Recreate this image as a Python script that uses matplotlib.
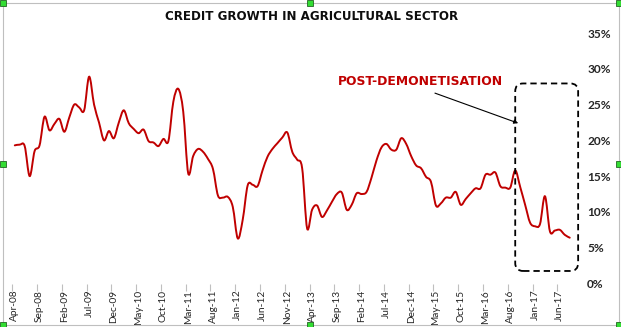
import numpy as np
import pandas as pd
import matplotlib
matplotlib.use("Agg")
import matplotlib.pyplot as plt
from matplotlib.path import Path
from matplotlib.patches import PathPatch, FancyBboxPatch, Rectangle

# ---------------- data ----------------
months = pd.date_range("2008-04-01", periods=113, freq="MS").strftime("%b-%y").tolist()
growth = [
    19.3, 19.4, 19.2, 15.0, 18.5, 19.3, 23.3, 21.4, 22.3, 23.0,
    21.2, 23.2, 25.0, 24.6, 24.2, 28.9, 25.0, 22.5, 20.0, 21.3,
    20.3, 22.5, 24.2, 22.4, 21.6, 21.0, 21.5, 19.9, 19.7, 19.2,
    20.2, 19.9, 25.4, 27.2, 24.0, 15.4, 17.8, 18.8, 18.4, 17.4,
    16.0, 12.3, 12.0, 12.1, 10.7, 6.3, 8.9, 13.7, 13.8, 13.6,
    15.8, 17.7, 18.8, 19.6, 20.4, 21.1, 18.4, 17.3, 16.1, 7.7,
    10.3, 10.9, 9.3, 10.2, 11.4, 12.5, 12.7, 10.3, 11.0, 12.6,
    12.5, 12.8, 14.8, 17.2, 19.0, 19.5, 18.7, 18.7, 20.3, 19.5,
    17.8, 16.5, 16.1, 14.9, 14.2, 10.9, 11.2, 12.0, 12.0, 12.8,
    11.0, 11.8, 12.6, 13.3, 13.3, 15.2, 15.2, 15.5, 13.6, 13.4,
    13.4, 15.8, 13.5, 11.0, 8.5, 8.0, 8.3, 12.2, 7.3, 7.4,
    7.5, 6.8, 6.4,
]
y_ticks = [0, 5, 10, 15, 20, 25, 30, 35]
title = "CREDIT GROWTH IN AGRICULTURAL SECTOR"
note = "POST-DEMONETISATION"
note_start = "Dec-13"
highlight_start = "Aug-16"

# ---------------- figure ----------------
W, H = 621, 327
fig = plt.figure(figsize=(W / 100, H / 100), dpi=100)
FONT = "Lato"
WIDE = "DejaVu Sans"

def fx(px):
    return px / W

def fy(py):
    return 1 - py / H

ax_l, ax_r, ax_t, ax_b = 12.3, 572.2, 33.0, 283.5
ax = fig.add_axes([fx(ax_l), fy(ax_b), fx(ax_r) - fx(ax_l), fy(ax_t) - fy(ax_b)])
n = len(growth)
ax.set_xlim(-0.5, n - 0.5)
ax.set_ylim(0, 35)
for s in ax.spines.values():
    s.set_visible(False)
ax.patch.set_alpha(0)

# smoothed line (Excel-like bezier smoothing)
x = np.arange(n, dtype=float)
y = np.array(growth, dtype=float)
pts = np.column_stack([x, y])
verts = [pts[0]]
codes = [Path.MOVETO]
for i in range(n - 1):
    p0 = pts[i - 1] if i > 0 else pts[i]
    p1 = pts[i]
    p2 = pts[i + 1]
    p3 = pts[i + 2] if i + 2 < n else pts[i + 1]
    c1 = p1 + (p2 - p0) / 6.0
    c2 = p2 - (p3 - p1) / 6.0
    verts += [c1, c2, p2]
    codes += [Path.CURVE4] * 3
ax.add_patch(PathPatch(Path(verts, codes), fill=False, edgecolor="#C00000",
                       lw=1.4, joinstyle="round", capstyle="round"))

# x axis: tick marks at category boundaries, labels at categories
lab_idx = list(range(0, n, 5))
ax.set_xticks([i - 0.5 for i in lab_idx])
ax.set_xticklabels([])
ax.tick_params(axis="x", which="major", length=5, width=0.8, color="#BFBFBF", direction="out")
ax.set_xticks(lab_idx, minor=True)
ax.set_xticklabels([months[i] for i in lab_idx], minor=True, rotation=90,
                   fontsize=7.3, family=FONT, color="#262626")
ax.tick_params(axis="x", which="minor", length=0, pad=4.5)

# y axis on the right
ax.yaxis.tick_right()
ax.set_yticks(y_ticks)
ax.set_yticklabels([f"{v}%" for v in y_ticks], fontsize=8.6, family=FONT,
                   fontweight="bold", color="#262626")
ax.tick_params(axis="y", length=0, pad=10.8)
for t in ax.get_yticklabels():
    t.set_horizontalalignment("left")

# title
fig.text(fx(312), fy(16), title, ha="center", va="center", fontsize=8.6,
         family=WIDE, fontweight="bold", color="#0D0D0D")

# dashed highlight box
hx = months.index(highlight_start)
box = FancyBboxPatch((hx + 1.0, 1.75), 12.7, 26.2,
                     boxstyle="round,pad=0,rounding_size=1.6", mutation_aspect=0.692,
                     fill=False, edgecolor="black", lw=1.3, linestyle=(0, (3.5, 2.2)),
                     clip_on=False)
ax.add_patch(box)

# annotation
ax.text(months.index(note_start) + 13.8, 28.2, note, ha="center", va="center",
        fontsize=8.9, family=WIDE, fontweight="bold", color="#C00000")
ax.annotate("", xy=(hx + 1.6, 22.4), xytext=(hx - 15.2, 26.6),
            arrowprops=dict(arrowstyle="-|>", color="black", lw=0.8,
                            mutation_scale=6, shrinkA=0, shrinkB=0),
            annotation_clip=False)

# chart frame and selection handles
fig.patches.append(Rectangle((fx(3), fy(325)), fx(619) - fx(3), fy(3) - fy(325),
                             transform=fig.transFigure, fill=False,
                             edgecolor="#BFBFBF", lw=0.8))
for hxp in (3, 310, 619):
    for hyp in (3, 164, 325):
        if hxp == 310 and hyp == 164:
            continue
        fig.patches.append(Rectangle((fx(hxp - 3), fy(hyp + 3)), fx(6), 6 / H,
                                     transform=fig.transFigure, facecolor="#33DD33",
                                     edgecolor="#226622", lw=0.6))

fig.savefig("out.png", dpi=100)
